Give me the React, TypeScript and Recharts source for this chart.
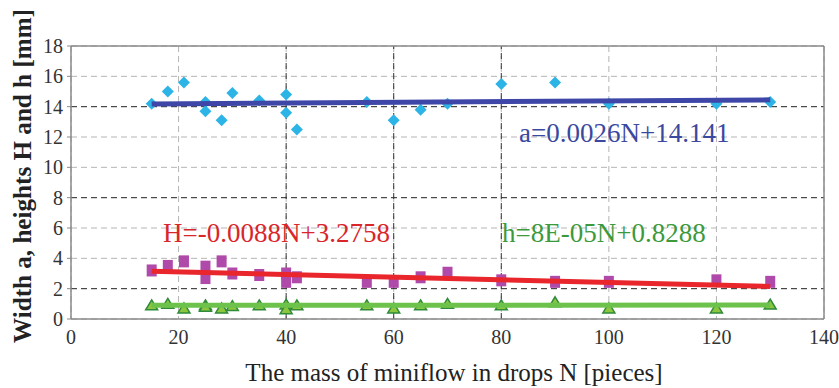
import React from "react";
import {
  ComposedChart,
  Scatter,
  XAxis,
  YAxis,
  CartesianGrid,
  ReferenceLine,
} from "recharts";

// Number of drops N (x values of measured points)
const dropsN = [15, 18, 21, 25, 25, 28, 30, 35, 40, 40, 42, 55, 60, 65, 70, 80, 90, 100, 120, 130];
// Width a [mm]
const widthA = [14.2, 15.0, 15.6, 14.3, 13.7, 13.1, 14.9, 14.4, 14.8, 13.6, 12.5, 14.3, 13.1, 13.8, 14.2, 15.5, 15.6, 14.2, 14.2, 14.3];
// Height H [mm]
const heightH = [3.2, 3.5, 3.8, 3.45, 2.7, 3.8, 3.0, 2.9, 3.0, 2.45, 2.75, 2.45, 2.45, 2.75, 3.05, 2.55, 2.45, 2.45, 2.55, 2.45];
// Height h [mm]
const heightSmallH = [0.9, 1.0, 0.7, 0.9, 0.8, 0.7, 0.85, 0.9, 0.95, 0.65, 0.9, 0.9, 0.7, 0.9, 1.0, 0.9, 1.1, 0.7, 0.7, 0.95];

// Trend line end points
const trendX = [15, 130];
const trendA = [14.18, 14.45];
const trendH = [3.15, 2.15];
const trendSmallH = [0.9, 0.92];

const xTicks = [0, 20, 40, 60, 80, 100, 120, 140];
const yTicks = [0, 2, 4, 6, 8, 10, 12, 14, 16, 18];
const darkY = [14, 8, 2];
const darkX = [40, 60, 80];

const eqA = "a=0.0026N+14.141";
const eqH = "H=-0.0088N+3.2758";
const eqh = "h=8E-05N+0.8288";
const yTitle = "Width a, heights H and h [mm]";
const xTitle = "The mass of miniflow in drops N [pieces]";

const pts = (ys: number[]) => dropsN.map((x, i) => ({ x, y: ys[i] }));
const line = (ys: number[]) => trendX.map((x, i) => ({ x, y: ys[i] }));

const FONT = "Liberation Serif, DejaVu Serif, serif";

const Diamond = (p: any) => {
  const { cx, cy } = p;
  if (cx == null || cy == null) return <g />;
  const r = 6;
  return (
    <polygon
      points={`${cx},${cy - r} ${cx + r},${cy} ${cx},${cy + r} ${cx - r},${cy}`}
      fill="#2DB4E6"
    />
  );
};

const Square = (p: any) => {
  const { cx, cy } = p;
  if (cx == null || cy == null) return <g />;
  return <rect x={cx - 5} y={cy - 6} width={10} height={12} fill="#B04AAA" />;
};

const Triangle = (p: any) => {
  const { cx, cy } = p;
  if (cx == null || cy == null) return <g />;
  return (
    <polygon
      points={`${cx},${cy - 5.5} ${cx + 6},${cy + 4.5} ${cx - 6},${cy + 4.5}`}
      fill="#8CC63F"
      stroke="#2F8A3A"
      strokeWidth={1.5}
    />
  );
};

const NoShape = () => <g />;

const XTick = (p: any) => {
  const { x, y, payload } = p;
  return (
    <text x={x} y={y} dy="0.71em" textAnchor="middle" fontSize={20} fontFamily={FONT} fill="#333">
      {payload.value}
    </text>
  );
};

const YTick = (p: any) => {
  const { x, y, payload } = p;
  return (
    <text x={x} y={y} dy="0.355em" textAnchor="end" fontSize={20} fontFamily={FONT} fill="#333">
      {payload.value}
    </text>
  );
};

export default function App() {
  return (
    <div
      style={{
        position: "absolute",
        left: 0,
        top: 0,
        width: 839,
        height: 388,
        background: "#fff",
        fontFamily: FONT,
      }}
    >
      <ComposedChart
        width={839}
        height={388}
        margin={{ top: 46, right: 15, bottom: 0, left: 0 }}
      >
        <CartesianGrid stroke="#b5b5b5" strokeDasharray="6 4" />
        {darkY.map((v) => (
          <ReferenceLine key={"dy" + v} y={v} stroke="#333" strokeDasharray="6 4" />
        ))}
        {darkX.map((v) => (
          <ReferenceLine key={"dx" + v} x={v} stroke="#333" strokeDasharray="6 4" />
        ))}
        <ReferenceLine y={18} stroke="#8a8a8a" strokeWidth={1.5} />
        <ReferenceLine x={140} stroke="#8a8a8a" strokeWidth={1.5} />
        <XAxis
          type="number"
          dataKey="x"
          domain={[0, 140]}
          ticks={xTicks}
          allowDataOverflow
          height={69}
          tickSize={4}
          tickMargin={7}
          tickLine={false}
          axisLine={{ stroke: "#8a8a8a", strokeWidth: 1.5 }}
          tick={XTick}
        />
        <YAxis
          type="number"
          dataKey="y"
          domain={[0, 18]}
          ticks={yTicks}
          allowDataOverflow
          width={71}
          tickSize={4}
          tickMargin={4}
          tickLine={{ stroke: "#8a8a8a" }}
          axisLine={{ stroke: "#8a8a8a", strokeWidth: 1.5 }}
          tick={YTick}
        />
        <Scatter data={pts(widthA)} shape={Diamond} isAnimationActive={false} />
        <Scatter data={pts(heightH)} shape={Square} isAnimationActive={false} />
        <Scatter data={pts(heightSmallH)} shape={Triangle} isAnimationActive={false} />
        <Scatter
          data={line(trendA)}
          shape={NoShape}
          line={{ stroke: "#3E47A8", strokeWidth: 5 }}
          isAnimationActive={false}
        />
        <Scatter
          data={line(trendH)}
          shape={NoShape}
          line={{ stroke: "#E8262B", strokeWidth: 5 }}
          isAnimationActive={false}
        />
        <Scatter
          data={line(trendSmallH)}
          shape={NoShape}
          line={{ stroke: "#6CC24A", strokeWidth: 5 }}
          isAnimationActive={false}
        />
      </ComposedChart>
      <svg
        width={839}
        height={388}
        style={{ position: "absolute", left: 0, top: 0, pointerEvents: "none" }}
      >
        <text x={519} y={142} fontSize={27} fontFamily={FONT} fill="#3B48A0">
          {eqA}
        </text>
        <text x={163} y={242} fontSize={27} fontFamily={FONT} fill="#D9262B">
          {eqH}
        </text>
        <text x={502} y={242} fontSize={27} fontFamily={FONT} fill="#3C9A3C">
          {eqh}
        </text>
        <text
          x={0}
          y={0}
          transform="translate(31,176) rotate(-90)"
          textAnchor="middle"
          fontSize={25}
          fontWeight="bold"
          fontFamily={FONT}
          fill="#222"
          textLength={334}
          lengthAdjust="spacingAndGlyphs"
        >
          {yTitle}
        </text>
        <text
          x={454}
          y={381}
          textAnchor="middle"
          fontSize={25}
          fontFamily={FONT}
          fill="#222"
        >
          {xTitle}
        </text>
      </svg>
    </div>
  );
}
